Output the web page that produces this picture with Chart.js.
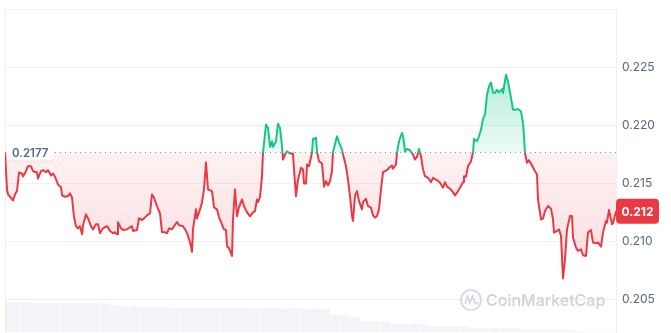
<!DOCTYPE html>
<html>
<head>
<meta charset="utf-8">
<script src="https://cdn.jsdelivr.net/npm/chart.js@4.4.1/dist/chart.umd.min.js"></script>
<style>
  html, body { margin: 0; padding: 0; background: #fff; }
  #wrap { width: 671px; height: 333px; overflow: hidden; }
</style>
</head>
<body>
<div id="wrap"><canvas id="priceChart" width="671" height="333"></canvas></div>
<script>
// opening price of the period, drawn as the dotted reference line
const openPrice = 0.2177;

// sample position along the day and the price at that sample
const timeIndex = [
  0, 2, 3, 8, 10, 12, 14, 17, 18, 21, 23, 26, 28, 32, 33, 36, 38, 41, 43, 46,
  48, 50, 53, 56, 57, 60, 63, 65, 67, 69, 71, 73, 75, 77, 78, 81, 83, 86, 88, 91,
  93, 95, 98, 102, 105, 108, 110, 112, 113, 116, 118, 122, 125, 127, 128, 132, 134, 137, 139, 142,
  145, 147, 149, 152, 155, 157, 160, 162, 164, 167, 169, 172, 174, 178, 181, 183, 185, 187, 188, 191,
  192, 195, 197, 199, 201, 203, 207, 209, 212, 214, 217, 219, 221, 222, 224, 227, 228, 230, 232, 234,
  237, 239, 242, 245, 248, 250, 252, 253, 255, 257, 258, 261, 263, 265, 267, 268, 271, 273, 275, 277,
  278, 280, 282, 285, 288, 289, 291, 293, 296, 298, 299, 301, 302, 304, 307, 308, 311, 312, 314, 317,
  318, 319, 321, 323, 325, 327, 328, 332, 334, 337, 338, 341, 343, 345, 347, 348, 350, 352, 354, 357,
  358, 361, 363, 366, 368, 370, 372, 374, 376, 378, 380, 382, 384, 387, 388, 391, 392, 394, 397, 398,
  399, 400, 402, 405, 408, 410, 412, 414, 416, 418, 420, 423, 426, 428, 432, 435, 438, 440, 442, 445,
  448, 450, 452, 455, 458, 459, 461, 463, 466, 468, 469, 472, 474, 476, 478, 480, 482, 484, 486, 488,
  490, 492, 494, 497, 498, 501, 503, 506, 508, 510, 513, 516, 518, 519, 520, 522, 524, 527, 530, 532,
  533, 536, 538, 540, 543, 546, 548, 549, 552, 554, 556, 558, 560, 562, 565, 567, 568, 571, 573, 576,
  578, 581, 583, 586, 588, 591, 593, 596, 598, 601, 602, 604, 607, 608, 611
];
const prices = [
  0.2177, 0.21448, 0.21405, 0.21353, 0.21405, 0.21434, 0.21595, 0.21586, 0.2156, 0.21606,
  0.21649, 0.21649, 0.21606, 0.21595, 0.21543, 0.21606, 0.21615, 0.21597, 0.21615, 0.21569,
  0.21586, 0.21558, 0.21491, 0.21466, 0.21397, 0.21385, 0.21391, 0.21414, 0.21379, 0.21207,
  0.2113, 0.21112, 0.2113, 0.2106, 0.21138, 0.21233, 0.21198, 0.2113, 0.21103, 0.21147,
  0.21147, 0.21069, 0.21112, 0.21132, 0.21089, 0.21069, 0.21078, 0.2106, 0.21164, 0.21112,
  0.21097, 0.21103, 0.21121, 0.2113, 0.21089, 0.21097, 0.21198, 0.21184, 0.21198, 0.21224,
  0.21241, 0.21405, 0.21379, 0.21302, 0.21241, 0.2108, 0.21078, 0.21069, 0.21112, 0.21103,
  0.2113, 0.21166, 0.21138, 0.2113, 0.21089, 0.21046, 0.20991, 0.20908, 0.21103, 0.21276,
  0.21198, 0.21276, 0.21336, 0.21448, 0.21681, 0.21448, 0.21434, 0.21293, 0.21276, 0.21207,
  0.21147, 0.21103, 0.21097, 0.20957, 0.2094, 0.20873, 0.2119, 0.21448, 0.21216, 0.21293,
  0.21362, 0.21304, 0.2125, 0.21216, 0.2125, 0.21261, 0.21362, 0.21339, 0.21379, 0.21563,
  0.21767, 0.22009, 0.2198, 0.21816, 0.21865, 0.21816, 0.21865, 0.22017, 0.2198, 0.21822,
  0.21707, 0.2175, 0.21778, 0.21759, 0.21759, 0.21621, 0.2139, 0.21534, 0.21635, 0.21621,
  0.215, 0.215, 0.21664, 0.21649, 0.21765, 0.21885, 0.21894, 0.2177, 0.21692, 0.21672,
  0.21578, 0.21472, 0.2152, 0.21483, 0.2152, 0.21606, 0.2177, 0.21908, 0.21856, 0.21793,
  0.2175, 0.21649, 0.21534, 0.2139, 0.21218, 0.21175, 0.21397, 0.21434, 0.21347, 0.21276,
  0.21339, 0.21368, 0.21304, 0.2129, 0.21224, 0.21204, 0.21218, 0.21276, 0.21448, 0.21597,
  0.21606, 0.21615, 0.21635, 0.21655, 0.21627, 0.21664, 0.21765, 0.21865, 0.21937, 0.21908,
  0.21851, 0.21778, 0.21799, 0.21787, 0.2175, 0.21707, 0.2173, 0.21799, 0.21735, 0.21621,
  0.21563, 0.21549, 0.21511, 0.21549, 0.21528, 0.21506, 0.21463, 0.21511, 0.21472, 0.21454,
  0.21425, 0.21397, 0.2142, 0.21463, 0.21511, 0.21563, 0.21558, 0.21649, 0.21692, 0.2177,
  0.21885, 0.21865, 0.21908, 0.21966, 0.22058, 0.22095, 0.22267, 0.22339, 0.22373, 0.22287,
  0.22282, 0.2231, 0.22287, 0.22316, 0.22282, 0.2244, 0.22382, 0.22239, 0.22138, 0.22138,
  0.22144, 0.22123, 0.22023, 0.21908, 0.21759, 0.21678, 0.21701, 0.21655, 0.21606, 0.21578,
  0.21362, 0.2119, 0.21196, 0.21261, 0.21304, 0.21282, 0.2119, 0.21075, 0.21089, 0.21103,
  0.21046, 0.20678, 0.20845, 0.21103, 0.21218, 0.21218, 0.21032, 0.20946, 0.20916, 0.20931,
  0.20879, 0.20873, 0.21075, 0.21097, 0.20989, 0.20983, 0.20989, 0.20954, 0.21075, 0.21175,
  0.21161, 0.2127, 0.21147, 0.21155, 0.2126
];

// volume bars (millions), one every 10 samples
const volumeIndex = [
  0, 10, 20, 30, 40, 50, 60, 70, 80, 90, 100, 110, 120, 130, 140, 150, 160, 170, 180, 190,
  200, 210, 220, 230, 240, 250, 260, 270, 280, 290, 300, 310, 320, 330, 340, 350, 360, 370, 380, 390,
  400, 410, 420, 430, 440, 450, 460, 470, 480, 490, 500, 510, 520, 530, 540, 550, 560, 570, 580, 590,
  600, 610
];
const volumes = [
  3.0, 3.0, 3.0, 2.95, 2.9, 2.9, 2.9, 2.9, 2.9, 2.9, 2.85, 2.7, 2.6, 2.55, 2.5, 2.5, 2.5, 2.45, 2.45, 2.45,
  2.4, 2.45, 2.4, 2.4, 2.4, 2.35, 2.4, 2.4, 2.35, 2.4, 2.35, 2.35, 2.3, 1.7, 1.7, 1.5, 1.1, 1.1, 1.0, 0.8,
  0.8, 0.8, 0.75, 0.57, 0.57, 0.57, 0.55, 0.37, 0.37, 0.37, 0.37, 0.35, 0.23, 0.23, 0.23, 0.23, 0.23, 0.1, 0.06, 0.05,
  0.05, 0.05
];

const tickValues = [0.205, 0.21, 0.215, 0.22, 0.225];
const tickLabels = ["0.205", "0.210", "0.215", "0.220", "0.225"];

const GREEN = "#16c784";
const RED = "#ea3943";
const GRID = "#eef1f4";
const TEXT = "#58667e";

const lastPrice = prices[prices.length - 1];

const overlay = {
  id: "overlay",
  beforeDatasetsDraw(chart) {
    const { ctx, chartArea: a } = chart;
    ctx.save();
    ctx.strokeStyle = GRID;
    ctx.lineWidth = 1;
    ctx.beginPath();
    ctx.moveTo(a.left + 0.5, a.bottom);
    ctx.lineTo(a.left + 0.5, a.top + 0.5);
    ctx.lineTo(a.right, a.top + 0.5);
    ctx.stroke();
    ctx.restore();
  },
  afterDatasetsDraw(chart) {
    const { ctx, chartArea: a, scales } = chart;
    const y = scales.y;
    ctx.save();

    // watermark
    ctx.globalAlpha = 0.9;
    ctx.strokeStyle = "#cdd1d9";
    ctx.lineWidth = 1.6;
    ctx.beginPath();
    ctx.arc(471, 300, 10, 0, Math.PI * 2);
    ctx.stroke();
    ctx.beginPath();
    ctx.moveTo(465, 304);
    ctx.lineTo(467.5, 296);
    ctx.lineTo(470, 303);
    ctx.lineTo(472.5, 296);
    ctx.lineTo(475, 303);
    ctx.quadraticCurveTo(476.5, 305, 478, 302);
    ctx.stroke();
    ctx.fillStyle = "#c9cdd5";
    ctx.font = "500 16px Inter";
    ctx.textBaseline = "middle";
    ctx.fillText("CoinMarketCap", 486, 301);
    ctx.globalAlpha = 1;

    // dotted open price line
    const by = Math.round(y.getPixelForValue(openPrice)) + 0.5;
    ctx.strokeStyle = "#8a93a6";
    ctx.lineWidth = 1;
    ctx.setLineDash([1, 4]);
    ctx.beginPath();
    ctx.moveTo(a.left, by);
    ctx.lineTo(a.right, by);
    ctx.stroke();
    ctx.setLineDash([]);

    // open price tag
    ctx.font = "600 11.5px Inter";
    const openTxt = openPrice.toFixed(4);
    const tw = ctx.measureText(openTxt).width;
    ctx.shadowColor = "rgba(0,0,0,0.08)";
    ctx.shadowBlur = 2;
    ctx.shadowOffsetY = 1;
    ctx.fillStyle = "#fff";
    ctx.beginPath();
    ctx.roundRect(a.left + 2, by - 8, tw + 10, 16, 4);
    ctx.fill();
    ctx.shadowColor = "transparent";
    ctx.fillStyle = TEXT;
    ctx.textBaseline = "middle";
    ctx.textAlign = "left";
    ctx.fillText(openTxt, a.left + 7, by + 1);

    // last price tag
    const ly = y.getPixelForValue(lastPrice);
    ctx.fillStyle = RED;
    ctx.beginPath();
    ctx.roundRect(a.right, ly - 12.5, 43, 25, 4);
    ctx.fill();
    ctx.fillStyle = "#fff";
    ctx.font = "700 12px Inter";
    ctx.textAlign = "center";
    ctx.fillText((Math.floor(lastPrice * 1000) / 1000).toFixed(3), a.right + 21.5, ly + 1);
    ctx.restore();
  }
};

const ctx = document.getElementById("priceChart").getContext("2d");
const chart = new Chart(ctx, {
  type: "line",
  data: {
    datasets: [
      {
        label: "Price",
        data: timeIndex.map((t, i) => ({ x: t, y: prices[i] })),
        borderColor: RED,
        borderWidth: 2,
        pointRadius: 0,
        tension: 0,
        borderJoinStyle: "round",
        fill: false,
        order: 0,
        yAxisID: "y"
      },
      {
        type: "bar",
        label: "Volume",
        data: volumeIndex.map((t, i) => ({ x: t, y: volumes[i] })),
        backgroundColor: "rgba(214,219,229,0.3)",
        barPercentage: 0.95,
        categoryPercentage: 1,
        order: 1,
        yAxisID: "vol"
      }
    ]
  },
  options: {
    responsive: false,
    animation: false,
    layout: { padding: { left: 5, top: 9, right: 0, bottom: 0 } },
    plugins: { legend: { display: false }, tooltip: { enabled: false } },
    scales: {
      x: { type: "linear", min: 0, max: 611, offset: false, display: false },
      y: {
        position: "right",
        min: 0.202155,
        max: 0.230086,
        afterBuildTicks: (s) => { s.ticks = tickValues.map(v => ({ value: v })); },
        afterFit: (s) => { s.width = 55; s.paddingTop = 0; s.paddingBottom = 0; },
        grid: { color: GRID, drawTicks: false },
        border: { color: GRID },
        ticks: {
          padding: 6,
          color: TEXT,
          font: { family: "Inter", size: 12 },
          callback: (v, i) => tickLabels[i]
        }
      },
      vol: { display: false, min: 0, max: 32.4 }
    }
  },
  plugins: [overlay]
});

// colour the line and its fill by the side of the open price
const area = chart.chartArea;
const ys = chart.scales.y;
const baseY = ys.getPixelForValue(openPrice);
const f = (baseY - area.top) / (area.bottom - area.top);
const lineGrad = ctx.createLinearGradient(0, area.top, 0, area.bottom);
lineGrad.addColorStop(0, GREEN);
lineGrad.addColorStop(f, GREEN);
lineGrad.addColorStop(f, RED);
lineGrad.addColorStop(1, RED);
const upGrad = ctx.createLinearGradient(0, ys.getPixelForValue(0.2245), 0, baseY);
upGrad.addColorStop(0, "rgba(22,199,132,0.32)");
upGrad.addColorStop(1, "rgba(22,199,132,0.08)");
const downGrad = ctx.createLinearGradient(0, baseY, 0, ys.getPixelForValue(0.207));
downGrad.addColorStop(0, "rgba(234,57,67,0.07)");
downGrad.addColorStop(1, "rgba(234,57,67,0.17)");

const ds = chart.data.datasets[0];
ds.borderColor = lineGrad;
ds.fill = { target: { value: openPrice }, above: upGrad, below: downGrad };
chart.update("none");
</script>
</body>
</html>
